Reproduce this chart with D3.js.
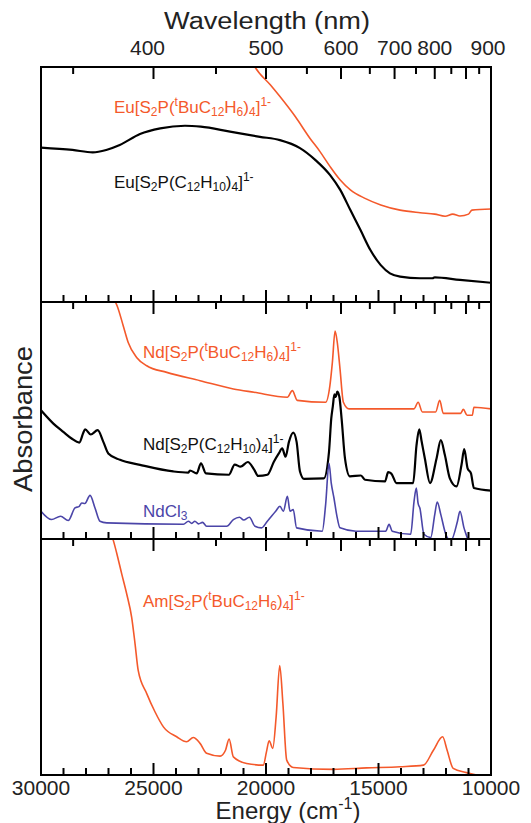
<!DOCTYPE html>
<html>
<head>
<meta charset="utf-8">
<script src="https://cdn.jsdelivr.net/npm/d3@7"></script>
<style>
  body { margin: 0; background: #fff; }
  text { font-family: "Liberation Sans", Arial, sans-serif; }
</style>
</head>
<body>
<svg id="chart" width="531" height="823"></svg>
<script>
// energy ticks (cm-1) and wavelength ticks (nm)
const energyMajor = [30000, 25000, 20000, 15000, 10000];
const energyMinor = [29000, 28000, 27000, 26000, 24000, 23000, 22000, 21000, 19000, 18000, 17000, 16000, 14000, 13000, 12000, 11000];
const waveMajor = [400, 500, 600, 700, 800, 900];
const waveMinor = [350, 450, 550, 650, 750, 850, 950];

// top panel: Eu
const euBiphenyl = [
  [30000, 0.657], [28600, 0.647], [27700, 0.637], [27100, 0.647], [26500, 0.668], [25600, 0.715],
  [24700, 0.739], [23600, 0.750], [22900, 0.746], [21600, 0.725], [20270, 0.703], [19380, 0.689],
  [18490, 0.655], [17800, 0.604], [17150, 0.540], [16700, 0.477], [16250, 0.391], [15800, 0.306],
  [15360, 0.221], [14900, 0.157], [14490, 0.122], [14040, 0.108], [13150, 0.101], [12600, 0.101],
  [12500, 0.105], [11380, 0.094], [10000, 0.082]
];
const euTbu = [
  [21000, 1.10], [20490, 1.00], [19800, 0.923], [19380, 0.874], [18700, 0.789], [18050, 0.697],
  [17600, 0.640], [17150, 0.576], [16700, 0.519], [16250, 0.477], [15600, 0.441], [14900, 0.413],
  [14040, 0.391], [13150, 0.380], [12500, 0.374], [12040, 0.365], [11700, 0.374], [11380, 0.366],
  [11000, 0.374], [10850, 0.391], [10000, 0.396]
];

// middle panel: Nd
const ndTbu = [
  [26800, 1.02], [26610, 0.982], [26340, 0.898], [26120, 0.828], [25750, 0.766], [25300, 0.731],
  [24410, 0.703], [22930, 0.668], [21450, 0.633], [20530, 0.619], [19050, 0.598], [18830, 0.626],
  [18610, 0.585], [17350, 0.577], [17160, 0.647], [17050, 0.745], [16930, 0.877], [16830, 0.828],
  [16710, 0.717], [16560, 0.577], [16310, 0.549], [13420, 0.549], [13240, 0.577], [13050, 0.536],
  [12460, 0.536], [12280, 0.585], [12120, 0.530], [11350, 0.530], [11230, 0.547], [11060, 0.522],
  [10830, 0.522], [10760, 0.556], [10000, 0.549]
];
const ndBiphenyl = [
  [30000, 0.543], [29450, 0.487], [29010, 0.452], [28640, 0.424], [28300, 0.407], [28120, 0.448],
  [28040, 0.463], [27790, 0.441], [27480, 0.459], [27230, 0.410], [27010, 0.361], [26490, 0.334],
  [25600, 0.313], [24120, 0.285], [23450, 0.280], [23380, 0.289], [23080, 0.277], [22890, 0.319],
  [22670, 0.277], [21650, 0.271], [21390, 0.314], [21130, 0.305], [20810, 0.325], [20520, 0.292],
  [20350, 0.266], [19940, 0.271], [19650, 0.326], [19430, 0.361], [19280, 0.382], [19130, 0.347],
  [18980, 0.410], [18790, 0.449], [18640, 0.410], [18490, 0.285], [18310, 0.254], [17430, 0.256],
  [17200, 0.368], [17100, 0.508], [17030, 0.560], [16960, 0.610], [16900, 0.600], [16830, 0.622],
  [16740, 0.600], [16640, 0.508], [16490, 0.340], [16270, 0.264], [15780, 0.268], [15600, 0.250],
  [14710, 0.243], [14570, 0.282], [14430, 0.276], [14200, 0.236], [13460, 0.236], [13310, 0.396],
  [13190, 0.463], [13080, 0.410], [12940, 0.340], [12710, 0.236], [12420, 0.340], [12230, 0.417],
  [12050, 0.354], [11830, 0.256], [11530, 0.222], [11310, 0.313], [11190, 0.379], [11040, 0.298],
  [10890, 0.277], [10760, 0.215], [10000, 0.204]
];
const ndCl3 = [
  [30000, 0.117], [29530, 0.082], [29130, 0.096], [28790, 0.078], [28490, 0.131], [28300, 0.138],
  [28190, 0.152], [28050, 0.150], [27820, 0.184], [27600, 0.131], [27380, 0.075], [27080, 0.068],
  [23670, 0.062], [23450, 0.075], [23300, 0.066], [23160, 0.075], [23000, 0.064], [22820, 0.070],
  [22640, 0.054], [21750, 0.054], [21450, 0.082], [21180, 0.092], [20990, 0.080], [20740, 0.092],
  [20490, 0.054], [20200, 0.047], [19940, 0.075], [19570, 0.117], [19380, 0.138], [19230, 0.117],
  [19050, 0.180], [18930, 0.117], [18790, 0.124], [18640, 0.047], [17500, 0.033], [17350, 0.145],
  [17200, 0.319], [17100, 0.236], [16980, 0.173], [16860, 0.103], [16710, 0.047], [16000, 0.033],
  [14680, 0.033], [14530, 0.062], [14390, 0.033], [13570, 0.020], [13420, 0.159], [13320, 0.215],
  [13240, 0.150], [13160, 0.130], [12980, 0.020], [12680, 0.006], [12500, 0.103], [12390, 0.156],
  [12230, 0.103], [12010, 0.020], [11790, -0.008], [11490, 0.075], [11380, 0.117], [11200, 0.047],
  [11060, 0.006], [10950, -0.03]
];

// bottom panel: Am
const amTbu = [
  [27000, 1.05], [26780, 0.992], [26640, 0.942], [26410, 0.851], [26190, 0.767], [25970, 0.668],
  [25820, 0.556], [25680, 0.443], [25300, 0.345], [24930, 0.267], [24560, 0.204], [23970, 0.162],
  [23530, 0.141], [23230, 0.159], [22930, 0.134], [22640, 0.092], [22040, 0.080], [21800, 0.105],
  [21640, 0.152], [21450, 0.077], [20860, 0.049], [20120, 0.042], [19980, 0.098], [19860, 0.145],
  [19700, 0.113], [19550, 0.246], [19390, 0.464], [19250, 0.304], [19080, 0.063], [18790, 0.032],
  [17010, 0.024], [15530, 0.030], [14040, 0.035], [13000, 0.042], [12560, 0.105], [12150, 0.162],
  [11950, 0.105], [11680, 0.028], [11090, 0.010], [10640, 0.0], [10300, -0.004]
];

const orange = "#f4592b";
const blue = "#4b45a8";

const svg = d3.select("#chart");
const x = d3.scaleLinear().domain([30000, 10000]).range([41, 491]);
const panels = [
  { top: 67, bottom: 302 },
  { top: 302, bottom: 539 },
  { top: 539, bottom: 775 }
];

const series = [
  { panel: 0, data: euTbu, color: orange, width: 1.6 },
  { panel: 0, data: euBiphenyl, color: "#000", width: 2.2 },
  { panel: 1, data: ndTbu, color: orange, width: 1.6 },
  { panel: 1, data: ndBiphenyl, color: "#000", width: 2.2 },
  { panel: 1, data: ndCl3, color: blue, width: 1.6 },
  { panel: 2, data: amTbu, color: orange, width: 1.6 }
];

const labels = [
  { x: 114, y: 113, text: "Eu[S_{2}P(^{t}BuC_{12}H_{6})_{4}]^{1-}", color: orange },
  { x: 114, y: 188, text: "Eu[S_{2}P(C_{12}H_{10})_{4}]^{1-}", color: "#111" },
  { x: 143, y: 358, text: "Nd[S_{2}P(^{t}BuC_{12}H_{6})_{4}]^{1-}", color: orange },
  { x: 143, y: 450, text: "Nd[S_{2}P(C_{12}H_{10})_{4}]^{1-}", color: "#111" },
  { x: 143, y: 517, text: "NdCl_{3}", color: blue },
  { x: 143, y: 607, text: "Am[S_{2}P(^{t}BuC_{12}H_{6})_{4}]^{1-}", color: orange }
];

// text with _{sub} and ^{sup} parts
function richText(sel, str, size) {
  const small = Math.round(size * 0.68);
  let shift = 0;
  const re = /([_^])\{([^}]*)\}|([^_^]+)/g;
  let m;
  while ((m = re.exec(str)) !== null) {
    const kind = m[1] || "";
    const target = kind === "_" ? size * 0.2 : kind === "^" ? -size * 0.4 : 0;
    sel.append("tspan")
      .attr("dy", target - shift)
      .attr("font-size", kind ? small : size)
      .text(kind ? m[2] : m[3]);
    shift = target;
  }
}

// panel y scales + clip paths
panels.forEach((p, i) => {
  p.y = d3.scaleLinear().domain([0, 1]).range([p.bottom, p.top]);
  svg.append("clipPath").attr("id", "clip" + i)
    .append("rect")
    .attr("x", x(30000)).attr("y", p.top)
    .attr("width", x(10000) - x(30000)).attr("height", p.bottom - p.top);
});

// curves
series.forEach(s => {
  const p = panels[s.panel];
  const line = d3.line()
    .x(d => x(d[0]))
    .y(d => p.y(d[1]))
    .curve(d3.curveMonotoneX);
  svg.append("path")
    .datum(s.data)
    .attr("clip-path", `url(#clip${s.panel})`)
    .attr("fill", "none")
    .attr("stroke", s.color)
    .attr("stroke-width", s.width)
    .attr("stroke-linejoin", "round")
    .attr("d", line);
});

// ticks: energy inward from bottom edge, wavelength inward from top edge
const nm2cm = nm => 1e7 / nm;
panels.forEach(p => {
  const g = svg.append("g").attr("stroke", "#000").attr("stroke-width", 2);
  energyMajor.concat(energyMinor).forEach(e => {
    const len = energyMajor.includes(e) ? 12 : 7;
    g.append("line").attr("x1", x(e)).attr("x2", x(e)).attr("y1", p.bottom).attr("y2", p.bottom - len);
  });
  waveMajor.concat(waveMinor).forEach(w => {
    const len = waveMajor.includes(w) ? 12 : 7;
    g.append("line").attr("x1", x(nm2cm(w))).attr("x2", x(nm2cm(w))).attr("y1", p.top).attr("y2", p.top + len);
  });
  svg.append("rect")
    .attr("x", x(30000)).attr("y", p.top)
    .attr("width", x(10000) - x(30000)).attr("height", p.bottom - p.top)
    .attr("fill", "none").attr("stroke", "#000").attr("stroke-width", 2);
});

// tick labels
const fmt = d3.format("d");
svg.append("g").selectAll("text")
  .data(energyMajor).join("text")
  .attr("x", d => x(d))
  .attr("y", 795)
  .attr("text-anchor", "middle")
  .attr("font-size", 21)
  .attr("fill", "#222")
  .text(fmt);

// the 400 and 900 labels sit a little off their ticks in the original
const waveLabelShift = { 400: -6, 900: 22 };
svg.append("g").selectAll("text")
  .data(waveMajor).join("text")
  .attr("x", d => x(nm2cm(d)) + (waveLabelShift[d] || 0))
  .attr("y", 55)
  .attr("text-anchor", "middle")
  .attr("font-size", 21)
  .attr("fill", "#222")
  .text(fmt);

// axis titles
svg.append("text")
  .attr("x", 267).attr("y", 29)
  .attr("text-anchor", "middle")
  .attr("font-size", 23)
  .attr("fill", "#222")
  .attr("textLength", 206)
  .attr("lengthAdjust", "spacingAndGlyphs")
  .text("Wavelength (nm)");

const et = svg.append("text")
  .attr("x", 288).attr("y", 819)
  .attr("text-anchor", "middle")
  .attr("fill", "#222");
richText(et, "Energy (cm^{-1})", 24);

svg.append("text")
  .attr("transform", "translate(32,419) rotate(-90)")
  .attr("text-anchor", "middle")
  .attr("font-size", 25)
  .attr("fill", "#222")
  .attr("textLength", 146)
  .attr("lengthAdjust", "spacingAndGlyphs")
  .text("Absorbance");

// series labels
labels.forEach(l => {
  const t = svg.append("text").attr("x", l.x).attr("y", l.y).attr("fill", l.color);
  richText(t, l.text, 17);
});
</script>
</body>
</html>
